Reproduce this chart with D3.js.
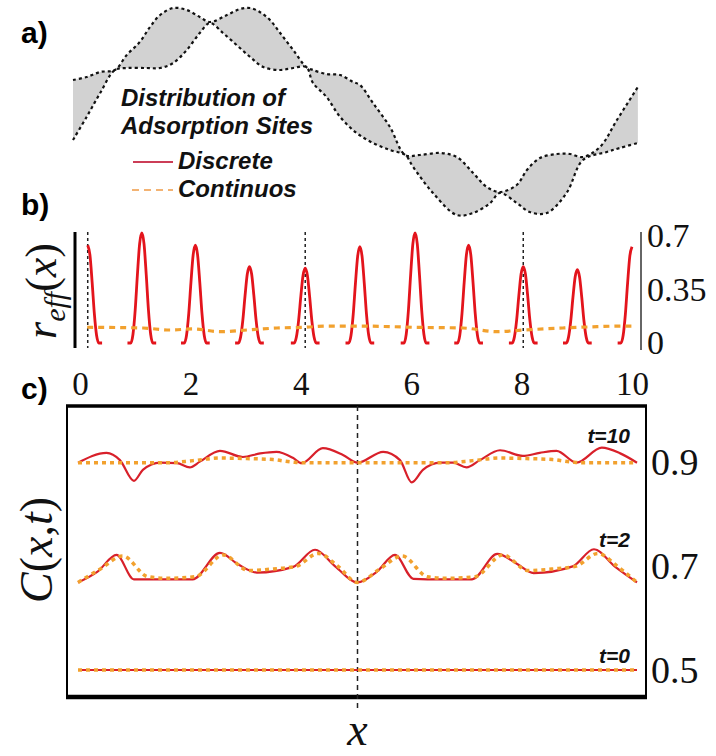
<!DOCTYPE html>
<html lang="en">
<head>
<meta charset="utf-8">
<title>Adsorption sites and effective rate</title>
<script src="https://cdn.jsdelivr.net/npm/d3@7"></script>
<style>
  body { margin: 0; background: #fff; }
</style>
</head>
<body>
<script>

// ---- panel a: the two edges of the band of adsorption sites (x, height)
var bandUpper = [[0,0.30],[0.24,0.33],[0.48,0.38],[0.74,0.40],[0.95,0.55],[1.18,0.68],[1.36,0.83],[1.54,0.95],
  [1.77,1.02],[2.01,1.00],[2.24,0.93],[2.42,0.88],[2.72,0.95],[2.95,1.01],[3.13,1.02],[3.30,0.98],[3.48,0.90],
  [3.66,0.77],[3.89,0.60],[4.12,0.43],[4.24,0.40],[4.48,0.36],[4.72,0.35],[4.95,0.28],[5.07,0.25],[5.30,0.07],
  [5.60,-0.17],[5.87,-0.45],[6.13,-0.45],[6.48,-0.43],[6.78,-0.47],[7.07,-0.63],[7.31,-0.77],[7.54,-0.82],
  [7.84,-0.75],[8.02,-0.60],[8.25,-0.48],[8.55,-0.44],[8.78,-0.44],[9.01,-0.47],[9.31,-0.37],[9.61,-0.10],[9.98,0.23]];
var bandLower = [[0,-0.30],[0.24,-0.07],[0.48,0.17],[0.74,0.40],[0.95,0.42],[1.30,0.42],[1.54,0.42],[1.77,0.47],
  [2.01,0.60],[2.24,0.77],[2.42,0.87],[2.65,0.77],[2.89,0.65],[3.13,0.53],[3.36,0.43],[3.66,0.40],[3.89,0.42],
  [4.12,0.43],[4.24,0.27],[4.48,0.13],[4.72,-0.07],[5.01,-0.23],[5.30,-0.33],[5.60,-0.40],[5.87,-0.45],
  [6.01,-0.57],[6.36,-0.83],[6.78,-1.05],[7.07,-1.03],[7.37,-0.93],[7.54,-0.83],[7.84,-0.93],[8.07,-1.02],
  [8.37,-1.03],[8.72,-0.83],[9.01,-0.50],[9.43,-0.42],[9.66,-0.38],[9.98,-0.33]];

// ---- panel b: r_eff(x)
var peakCenters = [0.14, 1.12, 2.09, 3.07, 4.08, 5.07, 6.07, 7.04, 8.03, 9.01, 10.0];
var peakHeights = [0.64, 0.72, 0.64, 0.50, 0.49, 0.63, 0.72, 0.64, 0.50, 0.48, 0.63];
var peakOffsets = [-0.26, -0.2, -0.16, -0.12, -0.08, -0.04, 0, 0.04, 0.08, 0.12, 0.16, 0.2, 0.26];
var peakShape   = [0, 0, 0.08, 0.3, 0.62, 0.9, 1, 0.9, 0.62, 0.3, 0.08, 0, 0];
var reffCont = [[0.13,0.103],[1.14,0.098],[1.63,0.085],[2.05,0.092],[2.54,0.074],[3.02,0.085],[3.57,0.098],
  [4.08,0.103],[4.47,0.111],[5.07,0.111],[5.62,0.107],[6.03,0.103],[6.94,0.098],[7.55,0.074],[8.03,0.085],
  [8.75,0.098],[9.37,0.107],[9.84,0.111],[10.0,0.111]];
var siteMarks = [0.14, 4.08, 8.03];
var bTicks = [0, 2, 4, 6, 8, 10];
var bRightTicks = [0, 0.35, 0.7];

// ---- panel c: C(x,t)
var red10 = [[0,0.900],[0.51,0.919],[0.75,0.905],[1.0,0.865],[1.16,0.886],[1.47,0.900],[1.77,0.899],[2.0,0.891],
  [2.18,0.902],[2.54,0.923],[2.95,0.911],[3.26,0.918],[3.55,0.921],[3.85,0.909],[4.0,0.899],[4.38,0.928],
  [4.74,0.915],[5.0,0.900],[5.46,0.921],[5.76,0.905],[5.97,0.862],[6.17,0.886],[6.48,0.900],[6.71,0.900],
  [6.95,0.891],[7.19,0.905],[7.55,0.924],[7.96,0.913],[8.26,0.919],[8.56,0.923],[8.92,0.900],[9.37,0.929],
  [9.70,0.918],[10.0,0.900]];
var orange10 = [[0,0.9],[1.6,0.9],[2.06,0.904],[2.54,0.909],[3.02,0.908],[3.49,0.906],[3.85,0.901],[4.0,0.9],
  [6.6,0.9],[7.06,0.904],[7.54,0.909],[8.02,0.908],[8.49,0.906],[8.85,0.901],[9.0,0.9],[10,0.9]];
var red2 = [[0,0.669],[0.35,0.69],[0.69,0.722],[1.0,0.675],[1.5,0.675],[2.05,0.675],[2.54,0.726],[2.85,0.705],
  [3.2,0.688],[3.85,0.699],[4.24,0.732],[4.6,0.70],[5.0,0.669],[5.35,0.69],[5.67,0.722],[6.0,0.676],[6.5,0.675],
  [7.05,0.675],[7.5,0.724],[7.85,0.705],[8.15,0.687],[8.85,0.70],[9.23,0.733],[9.6,0.70],[10,0.669]];
var orange2 = [[0,0.669],[0.4,0.695],[0.8,0.72],[1.25,0.68],[1.6,0.677],[2.1,0.68],[2.6,0.722],[3.05,0.692],
  [3.5,0.695],[3.9,0.70],[4.3,0.725],[4.65,0.70],[5.0,0.669],[5.4,0.695],[5.8,0.72],[6.25,0.68],[6.6,0.677],
  [7.1,0.68],[7.6,0.722],[8.05,0.692],[8.5,0.695],[8.9,0.70],[9.3,0.725],[9.65,0.70],[10,0.669]];
var red0 = [[0,0.5],[10,0.5]];
var orange0 = [[0,0.5],[10,0.5]];
var cTicks = [0.5, 0.7, 0.9];
var timeLabels = ["t=10", "t=2", "t=0"];
var timeLevels = [0.9, 0.7, 0.5];

var RED = "#e3141c", ORANGE = "#f2a12e";
var serif = "'Liberation Serif', 'Times New Roman', serif";
var sans = "'Liberation Sans', Arial, sans-serif";

var svg = d3.select("body").append("svg")
    .attr("width", 716)
    .attr("height", 756);

// panel letters
svg.selectAll("text.letter")
    .data([["a)", 43], ["b)", 215], ["c)", 399]])
    .enter().append("text")
    .attr("class", "letter")
    .attr("x", 21).attr("y", function(d) { return d[1]; })
    .attr("font-family", sans).attr("font-weight", "bold").attr("font-size", 30)
    .text(function(d) { return d[0]; });

// ---------------- panel a
var ax = d3.scaleLinear().domain([0, 10]).range([73, 639]);
var ay = d3.scaleLinear().domain([-1.1, 1.1]).range([220, 0]);
var edge = d3.line()
    .x(function(d) { return ax(d[0]); })
    .y(function(d) { return ay(d[1]); })
    .curve(d3.curveCatmullRom.alpha(0.5));

var back = edge(bandLower.slice().reverse());
svg.append("path")
    .attr("d", edge(bandUpper) + "L" + back.slice(1) + "Z")
    .attr("fill", "#d2d2d2")
    .attr("stroke", "none");

[bandUpper, bandLower].forEach(function(e) {
    svg.append("path")
        .attr("d", edge(e))
        .attr("fill", "none")
        .attr("stroke", "#111")
        .attr("stroke-width", 2.2)
        .attr("stroke-dasharray", "3,3");
});

// legend
var lg = svg.append("g")
    .attr("font-family", sans).attr("font-weight", "bold").attr("font-style", "italic")
    .attr("font-size", 24).attr("fill", "#111");
lg.append("text").attr("x", 121).attr("y", 106).text("Distribution of");
lg.append("text").attr("x", 121).attr("y", 134).text("Adsorption Sites");
lg.append("text").attr("x", 178).attr("y", 169).text("Discrete");
lg.append("text").attr("x", 178).attr("y", 197).text("Continuos");
svg.append("line").attr("x1", 133).attr("x2", 173).attr("y1", 162).attr("y2", 162)
    .attr("stroke", "#cc3d57").attr("stroke-width", 2);
svg.append("line").attr("x1", 132).attr("x2", 173).attr("y1", 190).attr("y2", 190)
    .attr("stroke", "#f3b373").attr("stroke-width", 2).attr("stroke-dasharray", "7,5");

// ---------------- panel b
var bx = d3.scaleLinear().domain([0, 10]).range([80, 632]);
var by = d3.scaleLinear().domain([0, 0.7]).range([343, 236]);
var bLine = d3.line()
    .x(function(d) { return bx(d[0]); })
    .y(function(d) { return by(d[1]); })
    .curve(d3.curveMonotoneX);

// y axis lines
svg.append("line").attr("x1", 75).attr("x2", 75).attr("y1", 232).attr("y2", 348)
    .attr("stroke", "#000").attr("stroke-width", 3);
svg.append("line").attr("x1", 641).attr("x2", 641).attr("y1", 232).attr("y2", 350)
    .attr("stroke", "#333").attr("stroke-width", 1.5);

svg.selectAll("line.site")
    .data(siteMarks)
    .enter().append("line")
    .attr("class", "site")
    .attr("x1", function(d) { return bx(d); }).attr("x2", function(d) { return bx(d); })
    .attr("y1", 232).attr("y2", 348)
    .attr("stroke", "#222").attr("stroke-width", 1.5).attr("stroke-dasharray", "3,3");

var peaks = peakCenters.map(function(c, i) {
    return peakOffsets.map(function(o, j) {
        return [c + o, peakHeights[i] * peakShape[j]];
    }).filter(function(p) { return p[0] >= 0.13 && p[0] <= 10.0; });
});
svg.selectAll("path.peak")
    .data(peaks)
    .enter().append("path")
    .attr("class", "peak")
    .attr("d", bLine)
    .attr("fill", "none")
    .attr("stroke", RED)
    .attr("stroke-width", 2.8)
    .attr("stroke-linejoin", "round");

svg.append("path")
    .attr("d", bLine(reffCont))
    .attr("fill", "none")
    .attr("stroke", ORANGE)
    .attr("stroke-width", 3.2)
    .attr("stroke-dasharray", "6,5");

var bAxis = svg.append("g")
    .attr("transform", "translate(0,383)")
    .call(d3.axisBottom(bx).tickValues(bTicks).tickSize(0).tickPadding(0));
bAxis.select(".domain").remove();
bAxis.selectAll("text")
    .attr("y", 0).attr("dy", "0.35em")
    .attr("font-family", serif).attr("font-size", 33).attr("fill", "#111");

var bRight = svg.append("g")
    .attr("transform", "translate(647,0)")
    .call(d3.axisRight(by).tickValues(bRightTicks).tickSize(0).tickPadding(0)
        .tickFormat(function(d) { return String(d); }));
bRight.select(".domain").remove();
bRight.selectAll("text")
    .attr("font-family", serif).attr("font-size", 34).attr("fill", "#111");

// r_eff(x) label
var rl = svg.append("text")
    .attr("transform", "translate(56,291) rotate(-90)")
    .attr("text-anchor", "middle")
    .attr("font-family", serif).attr("font-size", 44).attr("fill", "#111");
rl.append("tspan").attr("font-style", "italic").text("r");
rl.append("tspan").attr("font-style", "italic").attr("font-size", 30).attr("dy", 9).text("eff");
rl.append("tspan").attr("dy", -9).text("(");
rl.append("tspan").attr("font-style", "italic").text("x");
rl.append("tspan").text(")");

// ---------------- panel c
var cx = d3.scaleLinear().domain([0, 10]).range([78, 637]);
var cy = d3.scaleLinear().domain([0.5, 0.9]).range([670, 462.7]);
var cLine = d3.line()
    .x(function(d) { return cx(d[0]); })
    .y(function(d) { return cy(d[1]); })
    .curve(d3.curveMonotoneX);

svg.append("rect")
    .attr("x", 67).attr("y", 406).attr("width", 579).attr("height", 291)
    .attr("fill", "none").attr("stroke", "#000").attr("stroke-width", 2);
svg.append("line").attr("x1", 66).attr("x2", 647).attr("y1", 406).attr("y2", 406)
    .attr("stroke", "#000").attr("stroke-width", 3.5);
svg.append("line").attr("x1", 66).attr("x2", 647).attr("y1", 697).attr("y2", 697)
    .attr("stroke", "#000").attr("stroke-width", 4.5);

svg.append("line")
    .attr("x1", cx(5)).attr("x2", cx(5)).attr("y1", 406).attr("y2", 708)
    .attr("stroke", "#222").attr("stroke-width", 1.5).attr("stroke-dasharray", "5,4");

[red10, red2, red0].forEach(function(s) {
    svg.append("path").attr("d", cLine(s))
        .attr("fill", "none").attr("stroke", "#d8202a").attr("stroke-width", 2.2);
});
[orange10, orange2, orange0].forEach(function(s) {
    svg.append("path").attr("d", cLine(s))
        .attr("fill", "none").attr("stroke", ORANGE).attr("stroke-width", 3.5)
        .attr("stroke-dasharray", "4,4");
});

svg.selectAll("text.time")
    .data(timeLabels)
    .enter().append("text")
    .attr("class", "time")
    .attr("x", 630)
    .attr("y", function(d, i) { return cy(timeLevels[i]) - [20, 19, 7][i]; })
    .attr("text-anchor", "end")
    .attr("font-family", sans).attr("font-weight", "bold").attr("font-style", "italic")
    .attr("font-size", 21).attr("fill", "#111")
    .text(function(d) { return d; });

var cRight = svg.append("g")
    .attr("transform", "translate(651,0)")
    .call(d3.axisRight(cy).tickValues(cTicks).tickSize(0).tickPadding(0)
        .tickFormat(function(d) { return String(d); }));
cRight.select(".domain").remove();
cRight.selectAll("text")
    .attr("font-family", serif).attr("font-size", 38).attr("fill", "#111");

// C(x,t) label
var cl = svg.append("text")
    .attr("transform", "translate(52,550) rotate(-90)")
    .attr("text-anchor", "middle")
    .attr("font-family", serif).attr("font-size", 46).attr("fill", "#111");
cl.append("tspan").attr("font-style", "italic").text("C");
cl.append("tspan").text("(");
cl.append("tspan").attr("font-style", "italic").text("x");
cl.append("tspan").text(",");
cl.append("tspan").attr("font-style", "italic").text("t");
cl.append("tspan").text(")");

svg.append("text")
    .attr("x", cx(5)).attr("y", 745)
    .attr("text-anchor", "middle")
    .attr("font-family", serif).attr("font-style", "italic").attr("font-size", 46)
    .attr("fill", "#111")
    .text("x");

</script>
</body>
</html>
